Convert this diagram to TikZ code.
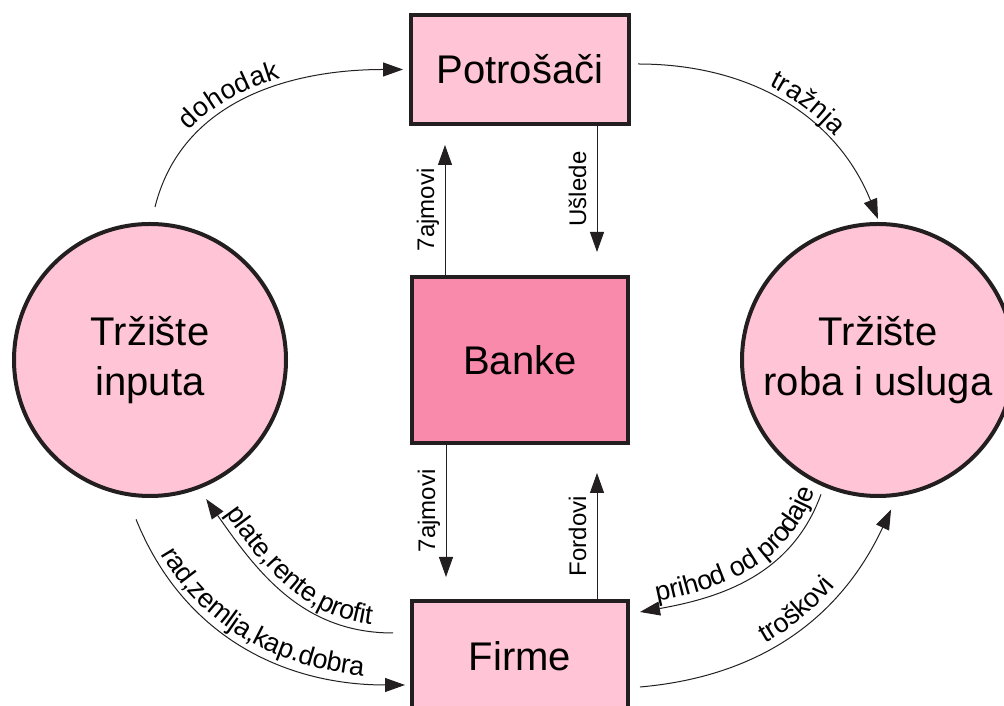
\documentclass[tikz,border=0pt]{standalone}
\usepackage{fontspec}
\setmainfont{Liberation Sans}
\usetikzlibrary{positioning,arrows.meta,decorations.text}
\definecolor{rose}{RGB}{255,196,214}
\definecolor{deeprose}{RGB}{250,138,171}
\definecolor{ink}{RGB}{35,31,32}
\newcommand\cellfont{\fontsize{40}{50}\selectfont}
\newcommand\flowfont{\fontsize{24}{28}\selectfont}
\newcommand\arcfont{\fontsize{27}{30}\selectfont}
\tikzset{
  cell/.style={draw=ink,line width=4pt,fill=rose,font=\cellfont,align=center},
  market/.style={cell,circle,minimum size=272pt,inner sep=0pt},
  desk/.style={cell,rectangle,minimum width=216pt},
  flow/.style={color=ink,line width=1pt,>={Triangle[length=20pt,width=14pt]}},
  say/.style={postaction={decorate,decoration={text along path,text align=center,raise=11pt,text={|\flowfont|#1}}}},
  arc/.style 2 args={postaction={decorate,decoration={text along path,text align={#2},raise=7pt,text={|\arcfont|#1}}}}
}

\begin{document}
\begin{tikzpicture}[x=1pt,y=1pt,on grid]
  \useasboundingbox (0,0) rectangle (1004,706);
  \clip (0,0) rectangle (1004,706);
  \node[desk,minimum height=166pt,fill=deeprose] (ban) at (520,346) {Banke};
  \node[desk,minimum height=109pt,minimum width=218pt] (pot) [above=290.5pt of ban] {Potrošači};
  \node[desk,minimum height=109pt] (firm) [below=296pt of ban] {Firme};
  \node[market] (inp) [left=370pt of ban] {Tržište\\inputa};
  \node[market] (roba) [right=358pt of ban] {Tržište\\roba i usluga};
  \path[flow]
  ([shift={(5pt,15pt)}]inp.north) edge[->,out=76,in=180,arc={dohodak}{center,right indent=40pt}] ([xshift=-6pt]pot.west)
  ([shift={(7pt,5.5pt)}]pot.east) edge[->,out=0,in=112,arc={tražnja}{center,left indent=40pt}] ([yshift=3pt]roba.north)
  ([shift={(77pt,23pt)}]ban.north) edge[<-,say={Ušlede}] ([xshift=77pt]pot.south)
  ([xshift=-75pt]ban.north) edge[->,say={7ajmovi}] ([shift={(-75pt,-19pt)}]pot.south)
  ([shift={(-74pt,22.5pt)}]firm.north) edge[<-,say={7ajmovi}] ([xshift=-74pt]ban.south)
  ([xshift=77pt]firm.north) edge[->,say={Fordovi}] ([shift={(77pt,-28pt)}]ban.south)
  ([shift={(-68:12pt)}]inp.-68) edge[<-,out=-55,in=180,arc={plate,rente,profit}{center}] ([shift={(-17pt,23pt)}]firm.west)
  ([shift={(-95:22pt)}]inp.-95) edge[->,out=-68,in=180,arc={rad,zemlja,kap.dobra}{center}] ([shift={(-5pt,-29pt)}]firm.west)
  ([shift={(10pt,44pt)}]firm.east) edge[<-,out=10,in=-110,arc={prihod od prodaje}{center,left indent=20pt}] ([shift={(-113:8pt)}]roba.-113)
  ([shift={(10pt,-31pt)}]firm.east) edge[->,out=5,in=-115,arc={troškovi}{center,left indent=40pt}] ([shift={(-85:12pt)}]roba.-85);
\end{tikzpicture}
\end{document}
